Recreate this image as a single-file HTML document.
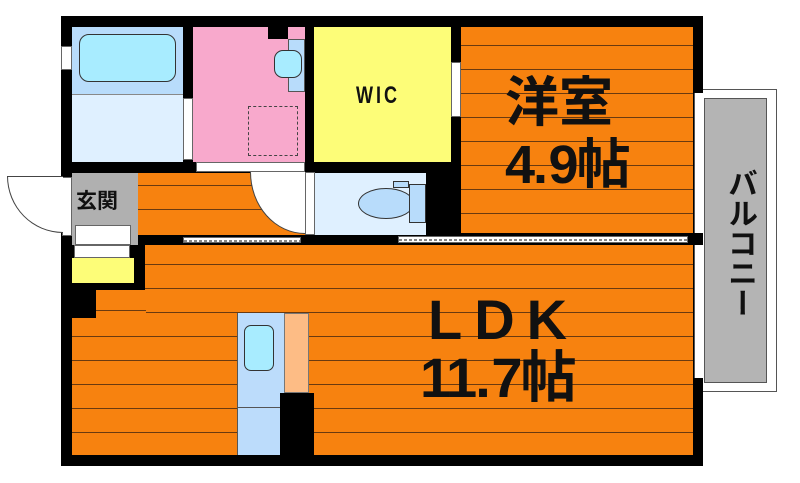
<!DOCTYPE html>
<html><head><meta charset="utf-8"><style>
body{margin:0;width:800px;height:483px;background:#fff;overflow:hidden;position:relative;font-family:"Liberation Sans","Noto Sans CJK JP",sans-serif}
div{position:absolute;box-sizing:border-box}
.b{background:#000}
.o{background:#f7820f;background-image:repeating-linear-gradient(180deg,transparent 0,transparent 23px,#6a3a10 23px,#6a3a10 24px)}
.t{font-weight:bold;color:#111;line-height:1}
.sd{background:#fff;border:1px solid #666;background-image:repeating-linear-gradient(90deg,#888 0,#888 3px,transparent 3px,transparent 5px);background-size:100% 2px;background-repeat:no-repeat;background-position:0 2px}
</style></head><body>
<!-- balcony -->
<div style="left:700px;top:89px;width:77px;height:303px;border:1px solid #555;background:#fff"></div>
<div style="left:704px;top:98px;width:63px;height:285px;background:#b4b4b4;border:1px solid #555"></div>
<div class="t" style="left:718px;top:168px;width:36px;font-size:30px;writing-mode:vertical-rl">バルコニー</div>
<!-- outer -->
<div class="b" style="left:61px;top:16px;width:642px;height:450px"></div>
<!-- right window -->
<div style="left:694px;top:93px;width:9px;height:140px;background:#fff;border-left:1px solid #555"></div>
<div style="left:694px;top:245px;width:9px;height:133px;background:#fff;border-left:1px solid #555"></div>
<!-- bath -->
<div style="left:72px;top:27px;width:111px;height:67px;background:#b8dcfb"></div>
<div style="left:79px;top:34px;width:97px;height:48px;background:#a8ecff;border:1.5px solid #333;border-radius:10px"></div>
<div style="left:72px;top:94px;width:111px;height:68px;background:#dff0ff;border-top:1px solid #888"></div>
<div style="left:183px;top:98px;width:10px;height:62px;background:#fff;border:1px solid #666"></div>
<div style="left:61px;top:46px;width:11px;height:24px;background:#fff;border:1px solid #666"></div>
<!-- pink -->
<div style="left:193px;top:27px;width:112px;height:135px;background:#f8a9cc"></div>
<div class="b" style="left:268px;top:27px;width:20px;height:12px"></div>
<div style="left:288px;top:39px;width:17px;height:53px;background:#b8dcfb;border:1px solid #555"></div>
<div style="left:274px;top:50px;width:28px;height:28px;background:#a8ecff;border:1.5px solid #333;border-radius:9px"></div>
<div style="left:248px;top:106px;width:50px;height:50px;border:1px dashed #444"></div>
<div style="left:196px;top:162px;width:109px;height:10px;background:#fff;border:1px solid #666"></div>
<!-- WIC -->
<div style="left:314px;top:27px;width:137px;height:135px;background:#fdfd78"></div>
<div class="t" style="left:356px;top:84px;font-size:24px;transform:scaleX(.75);transform-origin:left;letter-spacing:4px">WIC</div>
<div style="left:451px;top:62px;width:10px;height:55px;background:#fff;border:1px solid #666"></div>
<!-- 洋室 -->
<div class="o" style="left:461px;top:27px;width:232px;height:206px;background-position:0 -5px"></div>
<div class="t" style="left:505px;top:76px;font-size:54px">洋室</div>
<div class="t" style="left:505px;top:138px;font-size:54px;letter-spacing:-2px">4.&#8202;9帖</div>
<!-- genkan -->
<div style="left:72px;top:173px;width:66px;height:72px;background:#b0b0b0"></div>
<div class="t" style="left:76px;top:191px;font-size:21px">玄関</div>
<div style="left:75px;top:225px;width:56px;height:20px;background:#fff;border:1px solid #666"></div>
<div style="left:74px;top:245px;width:56px;height:13px;background:#fff;border:1px solid #666"></div>
<div style="left:72px;top:258px;width:62px;height:25px;background:#fdfd78"></div>
<div style="left:62px;top:177px;width:10px;height:59px;background:#fff;border:1px solid #666"></div>
<div style="left:7px;top:176px;width:56px;height:57px;border-top:1px solid #444;border-left:1px solid #444;border-bottom:1px solid #444;border-radius:0 0 0 100%;background:#fff"></div>
<!-- hallway -->
<div class="o" style="left:138px;top:173px;width:167px;height:62px;background-position:0 -11px"></div>
<div style="left:250px;top:172px;width:55px;height:62px;background:#fff;border-radius:0 0 0 100%;border-left:1px solid #444;border-bottom:1px solid #444;"></div>
<!-- toilet -->
<div style="left:305px;top:172px;width:10px;height:63px;background:#fff;border:1px solid #666"></div>
<div style="left:315px;top:173px;width:111px;height:62px;background:#dff0ff"></div>
<div style="left:358px;top:188px;width:56px;height:31px;background:#b8dcfb;border:1px solid #333;border-radius:50%"></div>
<div style="left:409px;top:184px;width:17px;height:39px;background:#b8dcfb;border:1px solid #333"></div>
<div style="left:393px;top:181px;width:16px;height:7px;background:#b8dcfb;border:1px solid #333"></div>
<!-- sliding doors -->
<div class="sd" style="left:183px;top:237px;width:118px;height:6px"></div>
<div class="sd" style="left:398px;top:236px;width:290px;height:7px"></div>
<!-- LDK -->
<div class="o" style="left:145px;top:245px;width:548px;height:210px;background-position:0 -4px"></div>
<div class="o" style="left:96px;top:290px;width:50px;height:28px;background-position:0 -3px"></div>
<div class="o" style="left:72px;top:318px;width:74px;height:137px;background-position:0 -5px"></div>
<div style="left:237px;top:313px;width:47px;height:142px;background:#bcdcfb;border-left:1px solid #555"></div>
<div style="left:237px;top:407px;width:47px;height:1px;background:#555"></div>
<div style="left:244px;top:325px;width:30px;height:46px;background:#a8ecff;border:1.5px solid #333;border-radius:7px"></div>
<div style="left:284px;top:313px;width:25px;height:80px;background:#fdbc85;border:1px solid #777"></div>
<div class="b" style="left:280px;top:393px;width:34px;height:62px"></div>
<div class="t" style="left:428px;top:292px;font-size:56px;letter-spacing:12px">LDK</div>
<div class="t" style="left:420px;top:350px;font-size:56px;letter-spacing:-2px">11.&#8202;7帖</div>
</body></html>
